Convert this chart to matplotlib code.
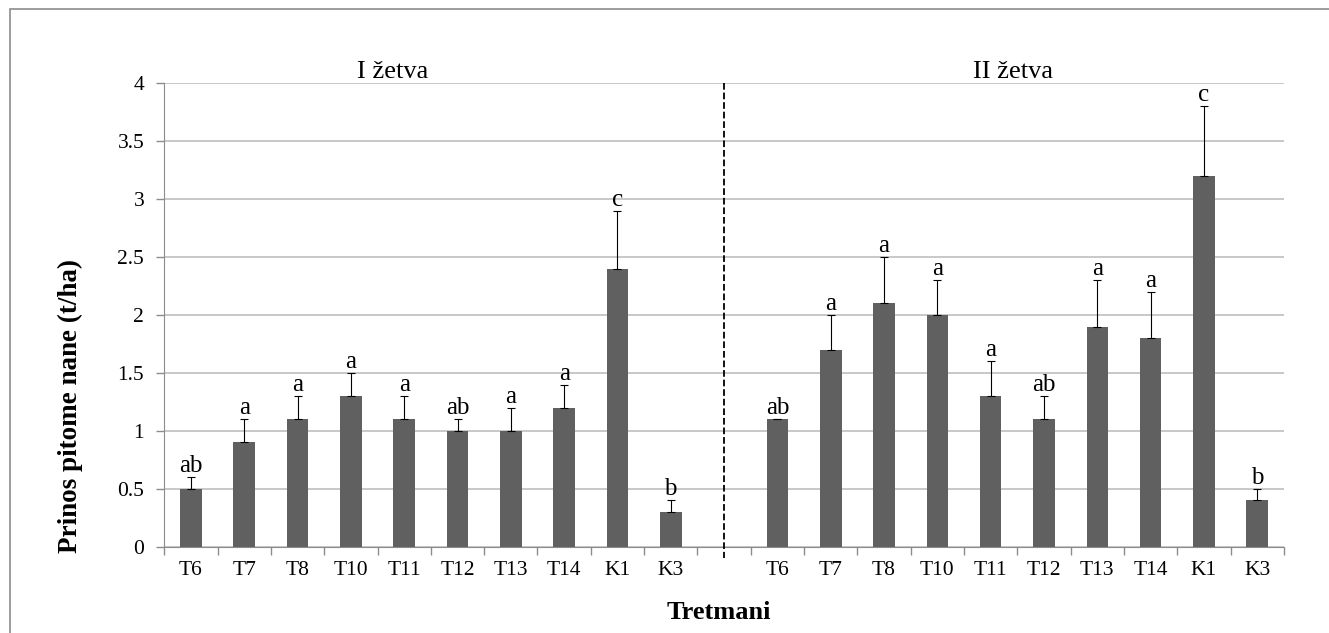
import matplotlib.pyplot as plt
import numpy as np
from matplotlib.patches import Rectangle

plt.rcParams['font.family'] = ['Liberation Serif', 'DejaVu Serif']

# podaci - I zetva i II zetva
tretmani = ['T6', 'T7', 'T8', 'T10', 'T11', 'T12', 'T13', 'T14', 'K1', 'K3']
prinos_1 = [0.5, 0.9, 1.1, 1.3, 1.1, 1.0, 1.0, 1.2, 2.4, 0.3]
greska_1 = [0.1, 0.2, 0.2, 0.2, 0.2, 0.1, 0.2, 0.2, 0.5, 0.1]
slova_1 = ['ab', 'a', 'a', 'a', 'a', 'ab', 'a', 'a', 'c', 'b']
prinos_2 = [1.1, 1.7, 2.1, 2.0, 1.3, 1.1, 1.9, 1.8, 3.2, 0.4]
greska_2 = [0.0, 0.3, 0.4, 0.3, 0.3, 0.2, 0.4, 0.4, 0.6, 0.1]
slova_2 = ['ab', 'a', 'a', 'a', 'a', 'ab', 'a', 'a', 'c', 'b']

fig = plt.figure(figsize=(13.29, 6.33), dpi=100)
ax = fig.add_axes([0.1236, 0.1363, 0.8425, 0.7321])

# okvir oko cijele slike
fig.patches.append(Rectangle((9.5 / 1329, -0.1), 1.2, 1 - 9.5 / 633 + 0.1,
                             transform=fig.transFigure, fill=False,
                             edgecolor='#8c8c8c', linewidth=1.2))

n = len(tretmani)
x1 = np.arange(n)
x2 = np.arange(n) + n + 1

for x, y, e, s in [(x1, prinos_1, greska_1, slova_1), (x2, prinos_2, greska_2, slova_2)]:
    ax.bar(x, y, width=0.405, color='#606060', zorder=3)
    ax.errorbar(x, y, yerr=[np.zeros(n), e], fmt='none', ecolor='black',
                elinewidth=0.8, capsize=3, capthick=0.8, zorder=4)
    for xi, yi, ei, si in zip(x, y, e, s):
        ax.annotate(si, (xi, yi + ei), xytext=(0, 0), textcoords='offset points',
                    ha='center', va='bottom', fontsize=18)

ax.set_xlim(-0.5, 2 * n + 0.5)
ax.set_ylim(0, 4)
ax.set_yticks(np.arange(0, 4.01, 0.5))
ax.set_yticklabels(['0', '0.5', '1', '1.5', '2', '2.5', '3', '3.5', '4'])
ax.yaxis.grid(True, color='#bfbfbf', linewidth=1.2, zorder=0)

ax.set_xticks(list(x1) + list(x2))
ax.set_xticklabels(tretmani + tretmani)
ax.set_xticks(np.arange(-0.5, 2 * n + 1), minor=True)
ax.tick_params(axis='x', which='major', length=0, pad=10, labelsize=15.5)
ax.tick_params(axis='x', which='minor', length=6, color='#8c8c8c', width=1)
ax.tick_params(axis='y', length=6, color='#8c8c8c', width=1, pad=8.5, labelsize=15.5)

for side in ['top', 'right']:
    ax.spines[side].set_visible(False)
ax.spines['left'].set_color('#8c8c8c')
ax.spines['bottom'].set_color('#8c8c8c')

# isprekidana linija izmedju zetvi
ax.plot([n, n], [4, -0.1], color='black', linestyle='--', linewidth=1.3,
        clip_on=False, zorder=5)

fig.text(392.5 / 1329, 1 - 77.7 / 633, 'I žetva', ha='center', va='baseline', fontsize=19)
fig.text(1013 / 1329, 1 - 77.7 / 633, 'II žetva', ha='center', va='baseline', fontsize=19)

ax.set_xlabel('Tretmani', fontsize=19, fontweight='bold')
ax.xaxis.set_label_coords(0.495, -0.117)
ax.set_ylabel('Prinos pitome nane (t/ha)', fontsize=19.5, fontweight='bold')
ax.yaxis.set_label_coords(-0.0726, 0.304)

fig.savefig('out.png', dpi=100)
